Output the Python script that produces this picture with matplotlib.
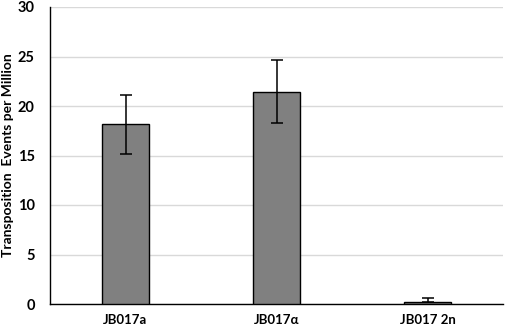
import matplotlib.pyplot as plt

strains = ['JB017a', 'JB017\u03b1', 'JB017 2n']
events = [18.2, 21.4, 0.25]
err_lo = [3.0, 3.1, 0.0]
err_hi = [2.9, 3.2, 0.35]
yticks = [0, 5, 10, 15, 20, 25, 30]

plt.rcParams['font.family'] = ['Lato', 'DejaVu Sans']
plt.rcParams['font.weight'] = 'bold'

fig = plt.figure(figsize=(5.05, 3.28), dpi=100)
ax = fig.add_axes([50 / 505, 1 - 304 / 328, 453 / 505, 297 / 328])

x = list(range(len(strains)))
ax.bar(x, events, width=0.31, color='#808080', edgecolor='black', linewidth=1,
       yerr=[err_lo, err_hi], capsize=4,
       error_kw=dict(elinewidth=1.1, capthick=1.1, ecolor='black'), zorder=3)

ax.set_xlim(-0.5, 2.5)
ax.set_ylim(0, 30)
ax.set_yticks(yticks)
ax.yaxis.grid(True, color='#d9d9d9', linewidth=1, zorder=0)
ax.set_axisbelow(True)
ax.set_xticks(x)
ax.set_xticklabels(strains, fontsize=9.5, fontweight='bold')
ax.tick_params(axis='y', labelsize=10.5, length=0, pad=11)
ax.tick_params(axis='x', length=0, pad=7)
for lab in ax.get_yticklabels():
    lab.set_fontweight('bold')

ax.spines['top'].set_visible(False)
ax.spines['right'].set_visible(False)
ax.spines['left'].set_linewidth(1)
ax.spines['bottom'].set_linewidth(1)

ax.set_ylabel('Transposition  Events per Million', fontsize=10, fontweight='bold', labelpad=3)

fig.savefig('out.png', dpi=100)
